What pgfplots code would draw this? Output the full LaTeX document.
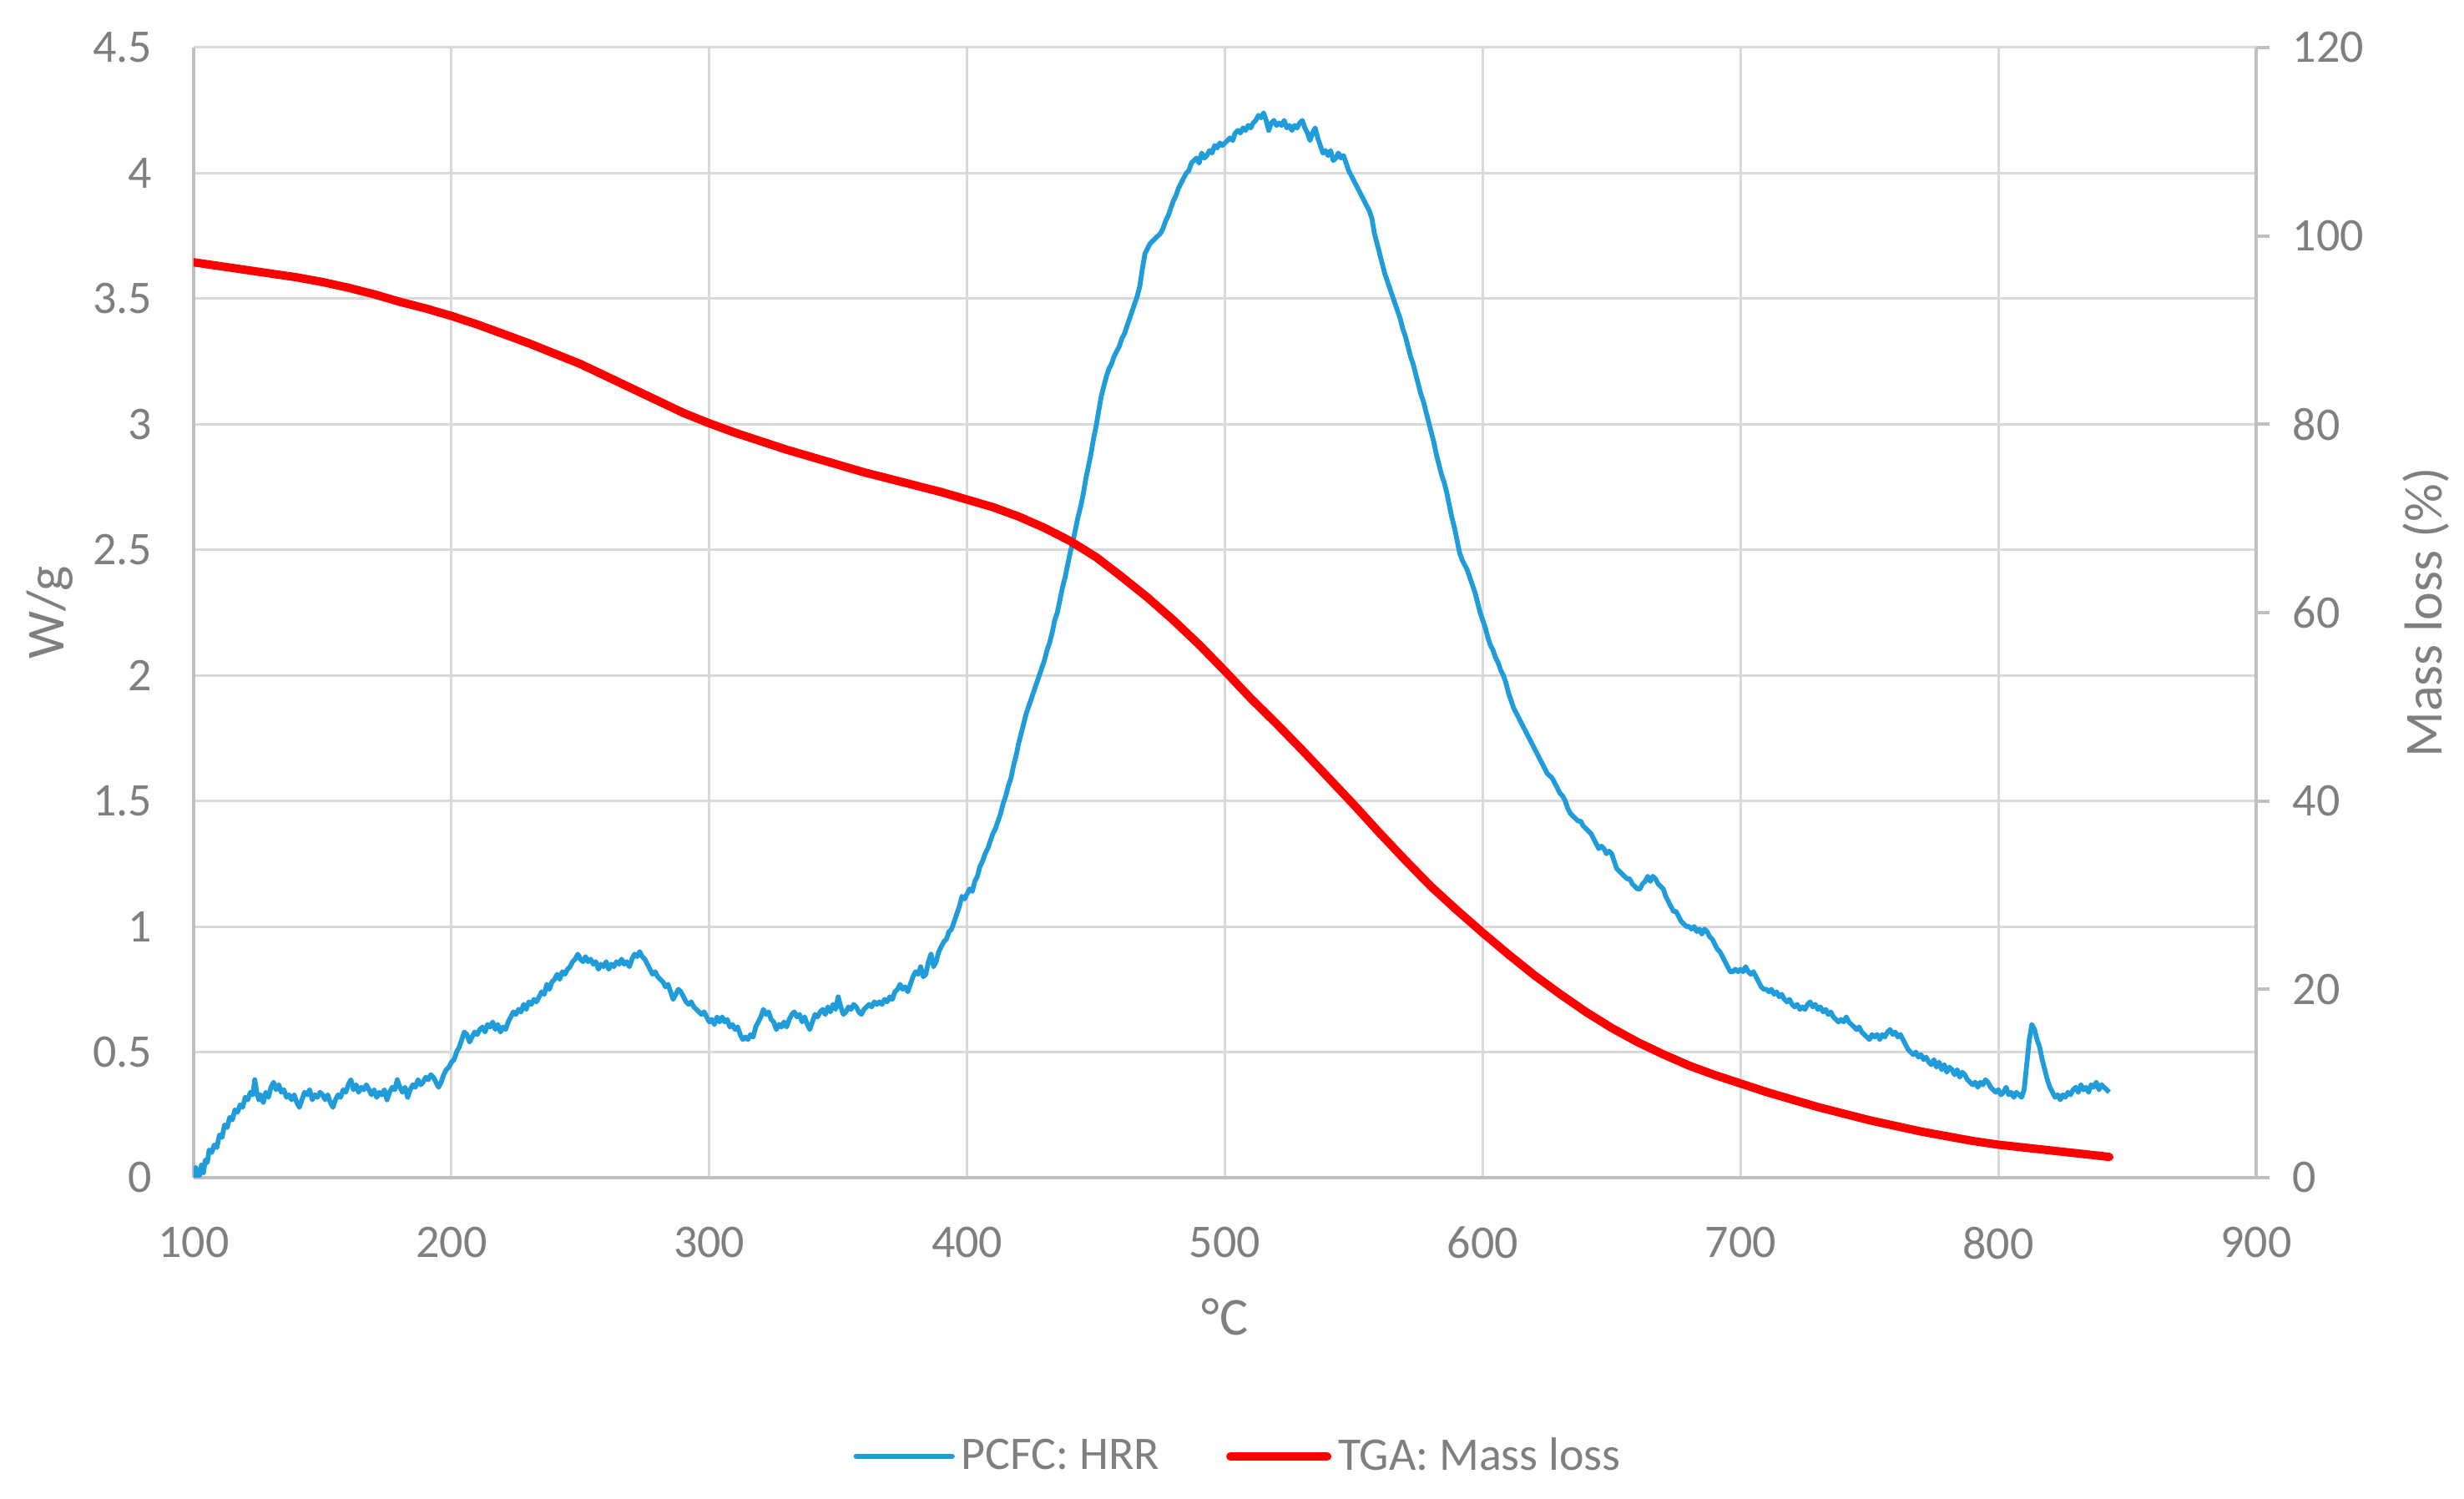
\documentclass[border=0pt]{standalone}
\usepackage{fontspec}
\setmainfont{Carlito}
\usepackage{pgfplots}
\pgfplotsset{compat=1.18}
\usepackage{pgfplotstable}
\definecolor{hrrblue}{HTML}{1F9CD9}
\definecolor{txtgray}{HTML}{7F7F7F}
\definecolor{gridgray}{HTML}{D9D9D9}
\definecolor{axisgray}{HTML}{BFBFBF}

\pgfplotstableread{
T v
100 0.00
100.8 0.04
101.5 0.00
102.3 0.01
103 0.05
103.8 0.02
104.5 0.07
105.3 0.06
106 0.11
107 0.10
108 0.13
109 0.12
110 0.17
111 0.16
112 0.21
113 0.20
114 0.24
115 0.23
116 0.27
117 0.26
118 0.29
119 0.28
120 0.32
121 0.31
122 0.34
123 0.33
123.7 0.39
124.5 0.34
125.3 0.31
126 0.33
127 0.30
128 0.34
129 0.32
130 0.36
131 0.38
132 0.35
133 0.37
134 0.34
135 0.35
136 0.32
137 0.33
138 0.31
139 0.33
140 0.30
141 0.28
142 0.31
143 0.34
144 0.33
145 0.35
146 0.31
147 0.33
148 0.32
149 0.34
150 0.33
151 0.31
152 0.33
153 0.30
154 0.28
155 0.31
156 0.33
157 0.32
158 0.35
159 0.34
160 0.37
161 0.39
162 0.35
163 0.37
164 0.34
165 0.36
166 0.35
167 0.37
168 0.35
169 0.33
170 0.35
171 0.32
172 0.34
173 0.33
174 0.35
175 0.31
176 0.34
177 0.36
178 0.35
179 0.39
180 0.36
181 0.34
182 0.36
183 0.32
184 0.35
185 0.37
186 0.36
187 0.39
188 0.37
189 0.38
190 0.40
191 0.39
192 0.41
193 0.40
194 0.38
195 0.36
196 0.38
197 0.41
198 0.43
199 0.44
200 0.46
201 0.47
202 0.50
203 0.52
204 0.55
205 0.58
206 0.57
207 0.54
208 0.56
209 0.58
210 0.57
211 0.59
212 0.60
213 0.58
214 0.61
215 0.60
216 0.62
217 0.59
218 0.61
219 0.58
220 0.60
221 0.59
222 0.62
223 0.64
224 0.66
225 0.65
226 0.67
227 0.66
228 0.69
229 0.67
230 0.70
231 0.69
232 0.71
233 0.70
234 0.72
235 0.74
236 0.73
237 0.77
238 0.75
239 0.78
240 0.79
241 0.81
242 0.79
243 0.82
244 0.81
245 0.83
246 0.84
247 0.86
248 0.87
249 0.89
250 0.87
251 0.86
252 0.88
253 0.86
254 0.87
255 0.85
256 0.86
257 0.83
258 0.85
259 0.84
260 0.86
261 0.83
262 0.85
263 0.84
264 0.86
265 0.85
266 0.87
267 0.85
268 0.86
269 0.84
270 0.87
271 0.89
272 0.88
273 0.90
274 0.88
275 0.87
276 0.85
277 0.83
278 0.81
279 0.82
280 0.80
281 0.79
282 0.78
283 0.76
284 0.77
285 0.74
286 0.71
287 0.73
288 0.75
289 0.74
290 0.72
291 0.70
292 0.69
293 0.70
294 0.68
295 0.67
296 0.66
297 0.65
298 0.66
299 0.64
300 0.62
301 0.63
302 0.61
303 0.64
304 0.62
305 0.64
306 0.62
307 0.63
308 0.60
309 0.61
310 0.59
311 0.60
312 0.57
313 0.55
314 0.56
315 0.55
316 0.57
317 0.56
318 0.60
319 0.62
320 0.64
321 0.67
322 0.65
323 0.66
324 0.63
325 0.62
326 0.59
327 0.61
328 0.60
329 0.62
330 0.60
331 0.63
332 0.65
333 0.66
334 0.64
335 0.65
336 0.62
337 0.64
338 0.61
339 0.59
340 0.62
341 0.65
342 0.64
343 0.66
344 0.67
345 0.65
346 0.68
347 0.66
348 0.69
349 0.67
350 0.72
351 0.68
352 0.65
353 0.66
354 0.68
355 0.67
356 0.69
357 0.68
358 0.66
359 0.65
360 0.67
361 0.68
362 0.69
363 0.68
364 0.70
365 0.69
366 0.70
367 0.69
368 0.71
369 0.70
370 0.72
371 0.71
372 0.74
373 0.75
374 0.77
375 0.75
376 0.76
377 0.74
378 0.77
379 0.80
380 0.82
381 0.81
382 0.84
383 0.80
384 0.81
385 0.86
386 0.89
387 0.84
388 0.86
389 0.90
390 0.92
391 0.94
392 0.95
393 0.98
394 0.99
395 1.02
396 1.05
397 1.08
398 1.12
399 1.11
400 1.13
401 1.15
402 1.14
403 1.18
404 1.20
405 1.24
406 1.26
407 1.29
408 1.31
409 1.34
410 1.37
411 1.39
412 1.42
413 1.45
414 1.49
415 1.52
416 1.56
417 1.59
418 1.64
419 1.68
420 1.73
421 1.77
422 1.81
423 1.85
424 1.88
425 1.91
426 1.94
427 1.97
428 2.00
429 2.03
430 2.06
431 2.10
432 2.13
433 2.17
434 2.22
435 2.25
436 2.30
437 2.35
438 2.39
439 2.44
440 2.49
441 2.53
442 2.58
443 2.63
444 2.67
445 2.72
446 2.78
447 2.83
448 2.88
449 2.94
450 2.99
451 3.05
452 3.11
453 3.15
454 3.19
455 3.22
456 3.24
457 3.27
458 3.29
459 3.31
460 3.34
461 3.36
462 3.39
463 3.42
464 3.45
465 3.48
466 3.51
467 3.55
468 3.62
469 3.68
470 3.70
471 3.72
472 3.73
473 3.74
474 3.75
475 3.76
476 3.78
477 3.81
478 3.83
479 3.86
480 3.89
481 3.91
482 3.94
483 3.96
484 3.98
485 4.00
486 4.01
487 4.04
488 4.05
489 4.06
490 4.04
491 4.08
492 4.06
493 4.07
494 4.09
495 4.08
496 4.11
497 4.10
498 4.12
499 4.11
500 4.12
501 4.13
502 4.14
503 4.13
504 4.16
505 4.17
506 4.16
507 4.18
508 4.17
509 4.19
510 4.18
511 4.20
512 4.21
513 4.23
514 4.22
515 4.24
516 4.21
517 4.17
518 4.20
519 4.21
520 4.19
521 4.20
522 4.19
523 4.21
524 4.18
525 4.19
526 4.17
527 4.19
528 4.18
529 4.20
530 4.21
531 4.18
532 4.16
533 4.13
534 4.16
535 4.18
536 4.14
537 4.11
538 4.08
539 4.09
540 4.07
541 4.09
542 4.05
543 4.06
544 4.08
545 4.06
546 4.07
547 4.04
548 4.01
549 3.99
550 3.97
551 3.95
552 3.93
553 3.91
554 3.89
555 3.87
556 3.85
557 3.82
558 3.76
559 3.72
560 3.68
561 3.64
562 3.60
563 3.57
564 3.54
565 3.51
566 3.48
567 3.45
568 3.42
569 3.38
570 3.35
571 3.31
572 3.27
573 3.24
574 3.20
575 3.16
576 3.12
577 3.09
578 3.05
579 3.01
580 2.97
581 2.93
582 2.88
583 2.84
584 2.80
585 2.77
586 2.73
587 2.68
588 2.63
589 2.59
590 2.54
591 2.49
592 2.46
593 2.44
594 2.42
595 2.39
596 2.36
597 2.33
598 2.29
599 2.25
600 2.22
601 2.19
602 2.15
603 2.12
604 2.10
605 2.07
606 2.05
607 2.02
608 2.00
609 1.97
610 1.93
611 1.90
612 1.87
613 1.85
614 1.83
615 1.81
616 1.79
617 1.77
618 1.75
619 1.73
620 1.71
621 1.69
622 1.67
623 1.65
624 1.63
625 1.61
626 1.60
627 1.59
628 1.57
629 1.55
630 1.53
631 1.52
632 1.50
633 1.47
634 1.45
635 1.44
636 1.43
637 1.42
638 1.42
639 1.40
640 1.39
641 1.38
642 1.37
643 1.35
644 1.33
645 1.31
646 1.32
647 1.31
648 1.29
649 1.30
650 1.29
651 1.26
652 1.23
653 1.22
654 1.21
655 1.20
656 1.19
657 1.19
658 1.17
659 1.16
660 1.15
661 1.15
662 1.17
663 1.18
664 1.20
665 1.18
666 1.20
667 1.19
668 1.17
669 1.16
670 1.15
671 1.12
672 1.10
673 1.08
674 1.06
675 1.06
676 1.04
677 1.02
678 1.01
679 1.00
680 1.00
681 0.99
682 1.00
683 0.98
684 0.99
685 0.97
686 0.99
687 0.98
688 0.96
689 0.95
690 0.93
691 0.91
692 0.90
693 0.88
694 0.86
695 0.84
696 0.82
697 0.82
698 0.83
699 0.82
700 0.83
701 0.82
702 0.84
703 0.82
704 0.81
705 0.82
706 0.80
707 0.78
708 0.76
709 0.75
710 0.75
711 0.74
712 0.75
713 0.73
714 0.74
715 0.72
716 0.73
717 0.71
718 0.70
719 0.71
720 0.69
721 0.68
722 0.69
723 0.67
724 0.68
725 0.67
726 0.69
727 0.70
728 0.68
729 0.69
730 0.67
731 0.68
732 0.66
733 0.67
734 0.65
735 0.66
736 0.64
737 0.63
738 0.62
739 0.63
740 0.62
741 0.64
742 0.62
743 0.61
744 0.60
745 0.59
746 0.60
747 0.58
748 0.57
749 0.56
750 0.55
751 0.57
752 0.56
753 0.57
754 0.55
755 0.57
756 0.56
757 0.58
758 0.59
759 0.57
760 0.58
761 0.56
762 0.57
763 0.55
764 0.53
765 0.51
766 0.50
767 0.49
768 0.50
769 0.48
770 0.49
771 0.47
772 0.48
773 0.46
774 0.45
775 0.47
776 0.44
777 0.46
778 0.43
779 0.45
780 0.42
781 0.44
782 0.43
783 0.41
784 0.43
785 0.40
786 0.42
787 0.41
788 0.39
789 0.38
790 0.37
791 0.38
792 0.36
793 0.38
794 0.37
795 0.39
796 0.38
797 0.36
798 0.35
799 0.34
800 0.35
801 0.33
802 0.34
803 0.36
804 0.33
805 0.34
806 0.32
807 0.34
808 0.33
809 0.32
810 0.35
811 0.45
812 0.55
813 0.61
814 0.59
815 0.55
816 0.52
817 0.47
818 0.43
819 0.39
820 0.36
821 0.34
822 0.32
823 0.33
824 0.31
825 0.33
826 0.32
827 0.34
828 0.33
829 0.35
830 0.36
831 0.34
832 0.37
833 0.35
834 0.36
835 0.34
836 0.37
837 0.36
838 0.38
839 0.35
840 0.37
841 0.36
842 0.35
843 0.34
}\hrrdata

\pgfplotstableread{
T m
100 97.2
110 96.8
120 96.4
130 96.0
140 95.6
150 95.1
160 94.5
170 93.8
180 93.0
190 92.3
200 91.5
210 90.6
220 89.6
230 88.6
240 87.5
250 86.4
260 85.1
270 83.8
280 82.5
290 81.2
300 80.1
310 79.1
320 78.2
330 77.3
340 76.5
350 75.7
360 74.9
370 74.2
380 73.5
390 72.8
400 72.0
410 71.2
420 70.2
430 69.0
440 67.6
450 65.9
460 63.8
470 61.6
480 59.2
490 56.6
500 53.8
510 50.9
520 48.2
530 45.4
540 42.5
550 39.6
560 36.6
570 33.7
580 30.9
590 28.4
600 26.0
610 23.7
620 21.5
630 19.5
640 17.6
650 15.9
660 14.4
670 13.1
680 11.9
690 10.9
700 10.0
710 9.1
720 8.3
730 7.5
740 6.8
750 6.1
760 5.5
770 4.9
780 4.4
790 3.9
800 3.5
810 3.2
820 2.9
830 2.6
840 2.3
843 2.2
}\tgadata

\begin{document}
\begin{tikzpicture}
\useasboundingbox (-58pt,-96.25pt) rectangle (680pt,352.75pt);
\begin{axis}[
  at={(0,0)}, anchor=south west,
  width=617.75pt, height=338.5pt, scale only axis,
  xmin=100, xmax=900, ymin=0, ymax=4.5,
  xtick={100,200,300,400,500,600,700,800,900},
  ytick={0,0.5,1,1.5,2,2.5,3,3.5,4,4.5},
  axis x line*=bottom, axis y line*=left,
  axis line style={draw=axisgray, line width=1pt, -},
  grid=major, grid style={draw=gridgray, line width=0.75pt},
  major tick length=0pt,
  tick label style={font=\fontsize{14}{16}\selectfont, text=txtgray},
  /pgf/number format/assume math mode=true,
  yticklabel style={/pgf/number format/fixed, anchor=east, inner sep=0pt, xshift=-12.25pt},
  xticklabel style={anchor=north, inner sep=0pt, yshift=-14.5pt},
  xlabel={°C}, ylabel={W/g},
  label style={font=\fontsize{16}{19}\selectfont, text=txtgray},
  xlabel style={at={(axis description cs:0.5,-0.1233)}, anchor=center},
  ylabel style={at={(axis description cs:-0.0696,0.5)}, anchor=center},
]
\addplot[hrrblue, line width=1.45pt, line join=round, mark=none] table[x=T, y=v] {\hrrdata};
\end{axis}
\begin{axis}[
  at={(0,0)}, anchor=south west,
  width=617.75pt, height=338.5pt, scale only axis,
  xmin=100, xmax=900, ymin=0, ymax=120,
  axis x line=none, axis y line*=right,
  axis line style={draw=axisgray, line width=1pt, -},
  ytick={0,20,40,60,80,100,120},
  tick align=outside, major tick length=4pt,
  tick style={draw=axisgray, line width=1pt},
  tick label style={font=\fontsize{14}{16}\selectfont, text=txtgray},
  /pgf/number format/assume math mode=true,
  yticklabel style={anchor=west, inner sep=0pt, xshift=6.75pt},
  ylabel={Mass loss (\%)},
  label style={font=\fontsize{16}{19}\selectfont, text=txtgray},
  ylabel style={at={(axis description cs:1.0822,0.5)}, anchor=center},
  legend style={at={(axis description cs:0.5075,-0.2467)}, anchor=center,
    draw=none, fill=none, font=\fontsize{14}{17}\selectfont, text=txtgray,
    /tikz/every even column/.append style={column sep=18pt}},
  legend columns=2,
  legend image code/.code={\draw[#1] (0pt,0pt) -- (29pt,0pt);},
]
\addlegendimage{hrrblue, line width=1.3pt, line cap=round}
\addlegendentry{PCFC: HRR}
\addplot[red, line width=2.5pt, line join=round, line cap=round, mark=none] table[x=T, y=m] {\tgadata};
\addlegendentry{TGA: Mass loss}
\end{axis}
\end{tikzpicture}
\end{document}
